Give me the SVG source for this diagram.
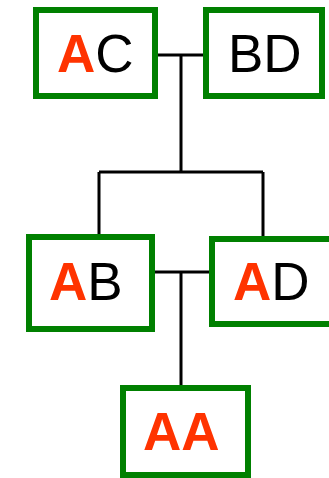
<svg xmlns="http://www.w3.org/2000/svg" width="329" height="478" viewBox="0 0 329 478">
<style>
.box{fill:#fff;stroke:#008000;stroke-width:6}
.ln{fill:none;stroke:#000;stroke-width:3}
text{font-family:"Liberation Sans",Arial,sans-serif;font-size:53px;fill:#000}
.r{fill:#ff3300;font-weight:bold}
</style>
<rect width="329" height="478" fill="#fff"/>
<g id="connectors">
<path class="ln" d="M155 55H206M181 55V172M99 172H263M99 172V237M263 172V239"/>
<path class="ln" d="M150 272H214M181 272V388"/>
</g>
<g id="AC"><rect class="box" x="36" y="10" width="119" height="86"/><text x="57" y="72"><tspan class="r">A</tspan>C</text></g>
<g id="BD"><rect class="box" x="206" y="10" width="116" height="86"/><text x="228" y="72">BD</text></g>
<g id="AB"><rect class="box" x="29" y="237" width="123" height="92"/><text x="49" y="300"><tspan class="r">A</tspan>B</text></g>
<g id="AD"><rect class="box" x="212" y="239" width="120" height="85"/><text x="233" y="300"><tspan class="r">A</tspan>D</text></g>
<g id="AA"><rect class="box" x="123" y="388" width="125" height="87"/><text x="143" y="450" class="r">AA</text></g>
</svg>
